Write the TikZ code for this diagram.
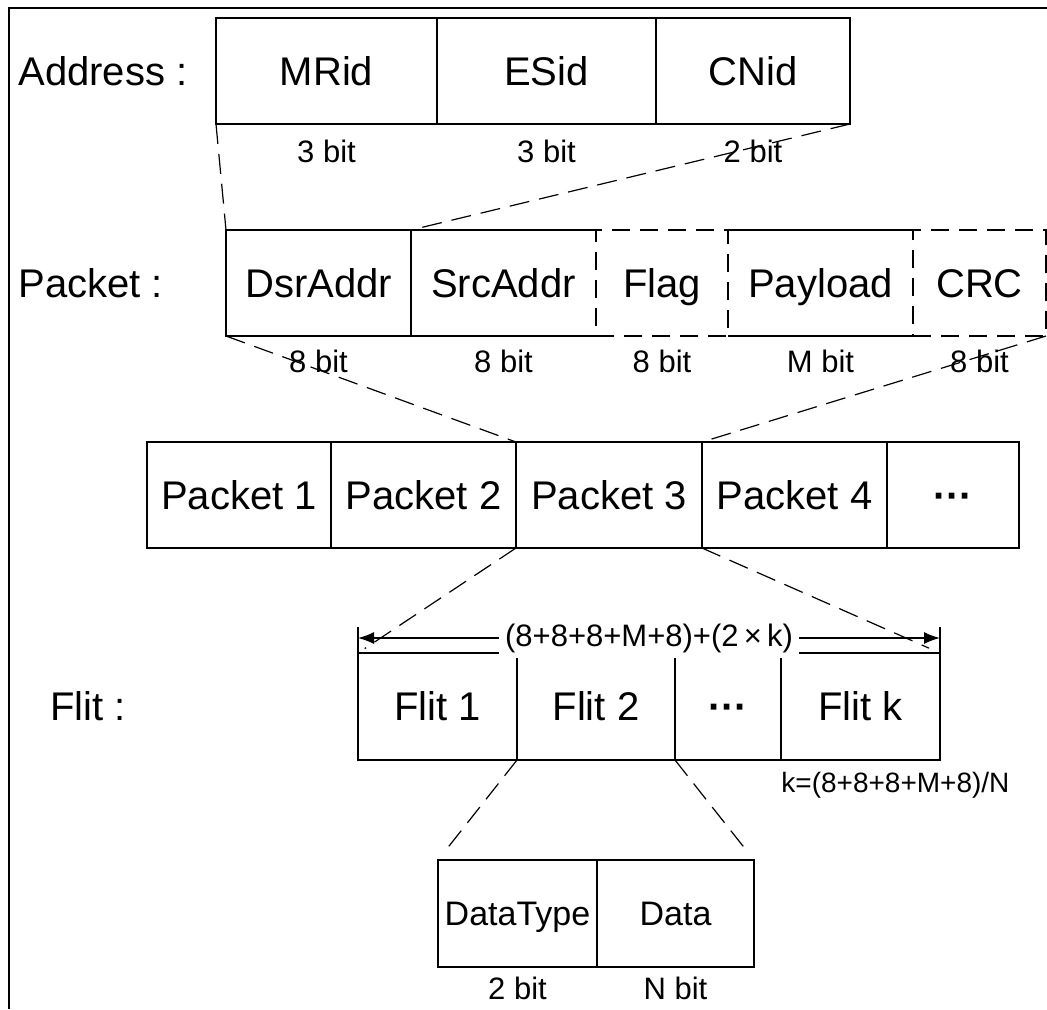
\documentclass[tikz,border=0pt]{standalone}
\usepackage{fontspec}
\setmainfont{Liberation Sans}
\usetikzlibrary{positioning}
\usetikzlibrary{arrows.meta}
\newcommand{\fieldfont}{\fontsize{20}{24}\selectfont}
\newcommand{\bitfont}{\fontsize{15.5}{18}\selectfont}
\newcommand{\smallfieldfont}{\fontsize{17}{20}\selectfont}

\begin{document}
\begin{tikzpicture}[x=0.5pt,y=-0.5pt,
	field/.style={rectangle, draw=black, line width=0.7pt, minimum height=53pt, inner sep=0pt, outer sep=0pt, text height=14.4pt, text depth=0pt, font=\fieldfont},
	smallfield/.style={field, minimum height=53.5pt, text height=12.2pt, font=\smallfieldfont},
	openfield/.style={field, draw=none},
	optfield/.style={field, dash pattern=on 9pt off 5pt},
	bitlabel/.style={inner sep=0pt, font=\bitfont},
	rowlabel/.style={anchor=west, inner sep=0pt, font=\fieldfont},
	zoomline/.style={line width=0.6pt, dash pattern=on 10pt off 5pt},
	]
	\useasboundingbox (0,0) rectangle (1047,1009);
	%Frame
	\draw[line width=1pt] (9,1009) -- (9,8) -- (1047,8);

	%Address
	\node[field, minimum width=110.5pt, anchor=north west] (mrid) at (216,18) {MRid};
	\node[field, minimum width=109.5pt, right=0pt of mrid] (esid) {ESid};
	\node[field, minimum width=97pt, right=0pt of esid] (cnid) {CNid};
	\node[rowlabel] (laddr) at (18,71) {Address :};
	\node[bitlabel, below=8pt of mrid] (bmrid) {3 bit};
	\node[bitlabel, below=8pt of esid] (besid) {3 bit};
	\node[bitlabel, below=8pt of cnid] (bcnid) {2 bit};

	%Packet
	\node[field, minimum width=92.5pt, anchor=north west] (dsr) at (226,230) {DsrAddr};
	\node[openfield, minimum width=92.5pt, right=0pt of dsr] (src) {SrcAddr};
	\node[optfield, minimum width=66pt, right=0pt of src] (flag) {Flag};
	\node[openfield, minimum width=92.5pt, right=0pt of flag] (pay) {Payload};
	\node[optfield, minimum width=66.5pt, right=0pt of pay] (crc) {CRC};
	\draw[line width=0.7pt] (src.north west) -- (src.north east) (src.south west) -- (src.south east);
	\draw[line width=0.7pt] (pay.north west) -- (pay.north east) (pay.south west) -- (pay.south east);
	\node[rowlabel] (lpkt) at (18,283) {Packet :};
	\node[bitlabel, below=7pt of dsr] (bdsr) {8 bit};
	\node[bitlabel, below=7pt of src] (bsrc) {8 bit};
	\node[bitlabel, below=7pt of flag] (bflag) {8 bit};
	\node[bitlabel, below=7pt of pay] (bpay) {M bit};
	\node[bitlabel, below=7pt of crc] (bcrc) {8 bit};

	%Packet stream
	\node[field, minimum width=92pt, anchor=north west] (p1) at (147,442) {Packet 1};
	\node[field, minimum width=92.5pt, right=0pt of p1] (p2) {Packet 2};
	\node[field, minimum width=93pt, right=0pt of p2] (p3) {Packet 3};
	\node[field, minimum width=92.5pt, right=0pt of p3] (p4) {Packet 4};
	\node[field, minimum width=66pt, right=0pt of p4] (pdots) {\textbf{···}};

	%Flit
	\node[field, minimum width=79.5pt, minimum height=53.5pt, anchor=north west] (f1) at (358,653) {Flit 1};
	\node[field, minimum width=79pt, minimum height=53.5pt, right=0pt of f1] (f2) {Flit 2};
	\node[field, minimum width=53pt, minimum height=53.5pt, right=0pt of f2] (fdots) {\textbf{···}};
	\node[field, minimum width=79.5pt, minimum height=53.5pt, right=0pt of fdots] (fk) {Flit k};
	\node[rowlabel] (lflit) at (50,706) {Flit :};
	\node[anchor=north west, inner sep=0pt, font=\fontsize{14}{16}\selectfont] (klabel) at ([yshift=-6pt]fk.south west) {k=(8+8+8+M+8)/N};
	\draw[line width=0.7pt] (f1.north west) -- ([yshift=13pt]f1.north west);
	\draw[line width=0.7pt] (fk.north east) -- ([yshift=13pt]fk.north east);
	\draw[line width=0.7pt, {Latex[length=8pt,width=6pt]}-{Latex[length=8pt,width=6pt]}] ([yshift=7.5pt]f1.north west) -- node[fill=white, inner sep=3pt, font=\bitfont] (dimlabel) {(8+8+8+M+8)+(2\,×\,k)} ([yshift=7.5pt]fk.north east);

	%Flit body
	\node[smallfield, minimum width=79.5pt, anchor=north west] (dtype) at (438,860) {DataType};
	\node[smallfield, minimum width=78.5pt, right=0pt of dtype] (data) {Data};
	\node[bitlabel, below=5pt of dtype] (bdtype) {2 bit};
	\node[bitlabel, below=5pt of data] (bdata) {N bit};

	%Lines
	\draw[zoomline] (mrid.south west) -- (dsr.north west);
	\draw[zoomline] (cnid.south east) -- (src.north west);
	\draw[zoomline] (dsr.south west) -- (p3.north west);
	\draw[zoomline] (crc.south east) -- (p3.north east);
	\draw[zoomline, shorten >=4pt] (p3.south west) -- (f1.north west);
	\draw[zoomline, shorten >=6pt] (p3.south east) -- (fk.north east);
	\draw[zoomline, shorten >=6pt] (f2.south west) -- (dtype.north west);
	\draw[zoomline, shorten >=6pt] (f2.south east) -- (data.north east);
\end{tikzpicture}
\end{document}
